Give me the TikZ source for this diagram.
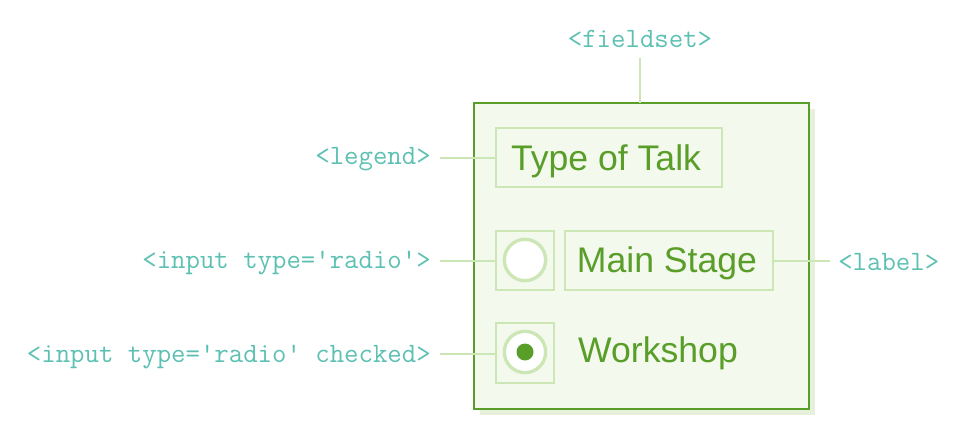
\documentclass[tikz,border=0pt]{standalone}
\usepackage{fontspec}
\newfontfamily\sansf{Liberation Sans}
\begin{document}
\definecolor{dgreen}{HTML}{5A9E2A}
\definecolor{lgreen}{HTML}{CDE6B5}
\definecolor{bgreen}{HTML}{F4F9EE}
\definecolor{sgreen}{HTML}{E6F0DA}
\definecolor{teal}{HTML}{5CC0B2}
\begin{tikzpicture}[x=0.75pt,y=-0.75pt,
  tag/.style={text=teal,font=\fontsize{21}{24}\selectfont\ttfamily,inner sep=0pt},
  lab/.style={text=dgreen,font=\fontsize{26.7}{30}\selectfont\sansf,inner sep=0pt},
  lbox/.style={draw=lgreen,line width=1.2pt,fill=bgreen},
  conn/.style={draw=lgreen,line width=1.2pt}]
\useasboundingbox (0,0) rectangle (956,438);
\fill[sgreen] (480,109) rectangle (815,415);
\draw[dgreen,line width=1.2pt,fill=bgreen] (474,103) rectangle (809,409);
\coordinate (fs) at (640,103);
\node[tag] (tfs) at (640,39) {<fieldset>};
\draw[conn] (640,58) -- (fs);
% legend
\draw[lbox] (496,128) rectangle (722,187);
\coordinate (lg) at (496,158);
\node[lab] (tt) at (606,161) {Type of Talk};
\node[tag,anchor=east] (tlg) at (431,159) {<legend>};
\draw[conn] (440,158) -- (lg);
% radio
\draw[lbox] (496,231) rectangle (554,290);
\node[circle,draw=lgreen,line width=2.5pt,fill=white,minimum size=31pt,inner sep=0pt] (r1) at (525,260) {};
\coordinate (rb) at (496,261);
\node[tag,anchor=east] (tr) at (431,263) {<input type='radio'>};
\draw[conn] (440,261) -- (rb);
\draw[lbox] (565,231) rectangle (773,290);
\node[lab] (ms) at (667,263) {Main Stage};
\coordinate (lb) at (773,261);
\node[tag,anchor=west] (tl) at (838,262) {<label>};
\draw[conn] (lb) -- (830,261);
% checked
\draw[lbox] (496,323) rectangle (554,383);
\node[circle,draw=lgreen,line width=2.5pt,fill=white,minimum size=31pt,inner sep=0pt] (r2) at (525,352) {};
\fill[dgreen] (r2) circle (8.5);
\coordinate (cb) at (496,354);
\node[tag,anchor=east] (tc) at (431,357) {<input type='radio' checked>};
\draw[conn] (440,354) -- (cb);
\node[lab] (ws) at (658,353) {Workshop};
\end{tikzpicture}
\end{document}
